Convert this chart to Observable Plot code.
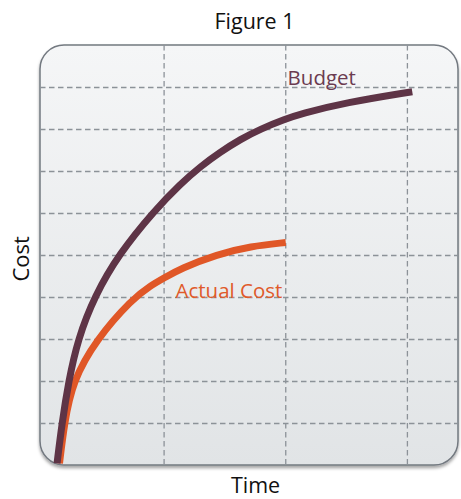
<!DOCTYPE html>
<html><head><meta charset="utf-8">
<script src="https://cdn.jsdelivr.net/npm/d3@7"></script>
<script src="https://cdn.jsdelivr.net/npm/@observablehq/plot@0.6"></script>
<style>body{margin:0;background:#fff} svg{display:block}</style>
</head><body><div id="chart"></div>
<script>
// Data (time units = vertical grid spacing, cost units = horizontal grid spacing)
const budgetTime = [0.12, 0.16, 0.215, 0.29, 0.43, 0.63, 0.92, 1.14, 1.3, 1.46, 1.63, 1.79, 2.0, 2.12, 2.49, 3.04];
const budgetCost = [0.05, 1.0, 2.0, 3.0, 4.04, 5.04, 6.07, 6.72, 7.12, 7.46, 7.77, 8.01, 8.25, 8.37, 8.64, 8.9];
const actualTime = [0.14, 0.18, 0.247, 0.442, 0.74, 0.888, 1.003, 1.135, 1.437, 1.711, 2.0];
const actualCost = [0.05, 1.0, 2.0, 3.0, 3.97, 4.28, 4.47, 4.69, 5.03, 5.22, 5.31];
const gridTimes = [1, 2, 3];
const gridCosts = [1, 2, 3, 4, 5, 6, 7, 8, 9];
const seriesNames = ["Budget", "Actual Cost"];
const labelTime = [2.015, 1.094];
const labelCost = [9.05, 4.0];
const seriesColors = ["#5e3446", "#e05727"];
const labelColors = ["#6b3b50", "#e05a2a"];
const timeDomain = [-0.016, 3.42];
const costDomain = [0, 10];

const budget = budgetTime.map((t, i) => ({t, c: budgetCost[i]}));
const actual = actualTime.map((t, i) => ({t, c: actualCost[i]}));
const labels = seriesNames.map((name, i) => ({name, t: labelTime[i], c: labelCost[i], color: labelColors[i]}));
const box = [{t1: timeDomain[0], t2: timeDomain[1], c1: costDomain[0], c2: costDomain[1]}];

const plot = Plot.plot({
  width: 461, height: 499,
  marginLeft: 40, marginRight: 3, marginTop: 45, marginBottom: 34,
  x: {domain: timeDomain, axis: null},
  y: {domain: costDomain, axis: null},
  style: {fontFamily: "'Open Sans', sans-serif", background: "white", overflow: "visible"},
  marks: [
    Plot.rect(box, {x1: "t1", x2: "t2", y1: "c1", y2: "c2", rx: 24, fill: "#eceef0", stroke: "#737980", strokeWidth: 1.5}),
    Plot.ruleX(gridTimes, {stroke: "#8c9298", strokeWidth: 1.3, strokeDasharray: "5.5,3.5"}),
    Plot.ruleY(gridCosts, {stroke: "#8c9298", strokeWidth: 1.3, strokeDasharray: "5.5,3.5"}),
    Plot.line(actual, {x: "t", y: "c", stroke: seriesColors[1], strokeWidth: 7, curve: "basis", strokeLinecap: "butt"}),
    Plot.line(budget, {x: "t", y: "c", stroke: seriesColors[0], strokeWidth: 7, curve: "basis", strokeLinecap: "butt"}),
    Plot.text(labels, {x: "t", y: "c", text: "name", fill: "color", textAnchor: "start", lineAnchor: "bottom", fontSize: 20.5}),
    Plot.text(["Figure 1"], {frameAnchor: "top", lineAnchor: "bottom", dy: -17, dx: 5, fontSize: 21.5, fill: "#111"}),
    Plot.text(["Time"], {frameAnchor: "bottom", lineAnchor: "bottom", dy: 27, dx: 6, fontSize: 21.5, fill: "#111"}),
    Plot.text(["Cost"], {frameAnchor: "left", lineAnchor: "bottom", rotate: -90, dx: -12, dy: 26, fontSize: 22, fill: "#111"})
  ]
});

const svg = d3.select(plot);
const defs = svg.insert("defs", ":first-child");
const g = defs.append("linearGradient").attr("id", "bg").attr("x1", 0).attr("y1", 0).attr("x2", 0).attr("y2", 1);
g.append("stop").attr("offset", "0%").attr("stop-color", "#f5f6f7");
g.append("stop").attr("offset", "100%").attr("stop-color", "#e1e4e6");
const f = defs.append("filter").attr("id", "sh").attr("x", "-5%").attr("y", "-5%").attr("width", "110%").attr("height", "112%");
f.append("feDropShadow").attr("dx", 0).attr("dy", 2.5).attr("stdDeviation", 1.8).attr("flood-color", "#000").attr("flood-opacity", 0.35);
svg.select('g[aria-label="rect"] rect').attr("fill", "url(#bg)").attr("filter", "url(#sh)");

document.getElementById("chart").append(plot);
</script>
</body></html>
